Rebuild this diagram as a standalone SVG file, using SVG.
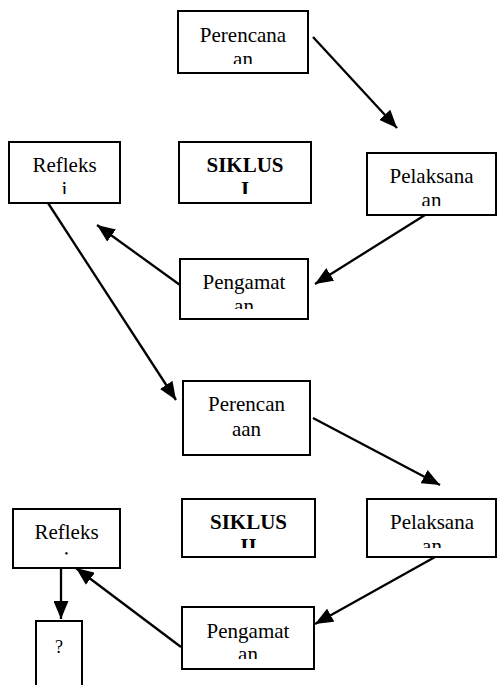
<svg xmlns="http://www.w3.org/2000/svg" width="497" height="685" viewBox="0 0 497 685">
<style>
.box{fill:#fff;stroke:#000;stroke-width:2}
.t{font-family:'Liberation Serif','DejaVu Serif','Times New Roman',serif;font-size:21px;fill:#000;text-anchor:middle}
.b{font-weight:bold}
.c{fill:none;stroke:#000;stroke-width:2.3}
</style>
<defs>
<marker id="ah" markerUnits="userSpaceOnUse" markerWidth="19" markerHeight="15" refX="18" refY="7.5" orient="auto">
<path d="M0,0 L18,7.5 L0,15 z" fill="#000"/>
</marker>
<clipPath id="c1"><rect x="178" y="11" width="130" height="53"/></clipPath>
<clipPath id="c2"><rect x="9" y="142" width="111" height="52"/></clipPath>
<clipPath id="c3"><rect x="179" y="142" width="132" height="52"/></clipPath>
<clipPath id="c4"><rect x="367" y="153" width="129" height="53"/></clipPath>
<clipPath id="c5"><rect x="180" y="259" width="128" height="50"/></clipPath>
<clipPath id="c7"><rect x="182" y="499" width="133" height="49"/></clipPath>
<clipPath id="c8"><rect x="367" y="499" width="129" height="49"/></clipPath>
<clipPath id="c9"><rect x="182" y="607" width="132" height="52"/></clipPath>
<clipPath id="c10"><rect x="13" y="509" width="107" height="50"/></clipPath>
</defs>
<g id="connectors">
<line class="c" x1="313" y1="37" x2="397" y2="128" marker-end="url(#ah)"/>
<line class="c" x1="425" y1="215" x2="315" y2="284" marker-end="url(#ah)"/>
<line class="c" x1="180" y1="285" x2="97" y2="225" marker-end="url(#ah)"/>
<line class="c" x1="48" y1="203" x2="176" y2="400" marker-end="url(#ah)"/>
<line class="c" x1="313" y1="418" x2="440" y2="485" marker-end="url(#ah)"/>
<line class="c" x1="435" y1="557" x2="315" y2="624" marker-end="url(#ah)"/>
<line class="c" x1="181" y1="647" x2="76" y2="568" marker-end="url(#ah)"/>
<line class="c" x1="61" y1="568" x2="61" y2="619" marker-end="url(#ah)"/>
</g>
<g id="perencanaan1">
<rect class="box" x="178" y="11" width="130" height="62"/>
<g clip-path="url(#c1)"><text class="t" x="243" y="42">Perencana</text><text class="t" x="243" y="66">an</text></g>
</g>
<g id="refleksi1">
<rect class="box" x="9" y="142" width="111" height="61"/>
<g clip-path="url(#c2)"><text class="t" x="64.5" y="172">Refleks</text><text class="t" x="64.5" y="196">i</text></g>
</g>
<g id="siklus1">
<rect class="box" x="179" y="142" width="132" height="61"/>
<g clip-path="url(#c3)"><text class="t b" x="245" y="172">SIKLUS</text><text class="t b" x="245" y="196">I</text></g>
</g>
<g id="pelaksanaan1">
<rect class="box" x="367" y="153" width="129" height="62"/>
<g clip-path="url(#c4)"><text class="t" x="431.5" y="183">Pelaksana</text><text class="t" x="431.5" y="207">an</text></g>
</g>
<g id="pengamatan1">
<rect class="box" x="180" y="259" width="128" height="60"/>
<g clip-path="url(#c5)"><text class="t" x="244" y="289">Pengamat</text><text class="t" x="244" y="313">an</text></g>
</g>
<g id="perencanaan2">
<rect class="box" x="183" y="381" width="127" height="74"/>
<text class="t" x="246.5" y="411">Perencan</text><text class="t" x="246.5" y="436">aan</text>
</g>
<g id="siklus2">
<rect class="box" x="182" y="499" width="133" height="58"/>
<g clip-path="url(#c7)"><text class="t b" x="248.5" y="529">SIKLUS</text><text class="t b" x="248.5" y="553">II</text></g>
</g>
<g id="pelaksanaan2">
<rect class="box" x="367" y="499" width="129" height="58"/>
<g clip-path="url(#c8)"><text class="t" x="432" y="529">Pelaksana</text><text class="t" x="432" y="553">an</text></g>
</g>
<g id="pengamatan2">
<rect class="box" x="182" y="607" width="132" height="62"/>
<g clip-path="url(#c9)"><text class="t" x="248" y="638">Pengamat</text><text class="t" x="248" y="661">an</text></g>
</g>
<g id="refleksi2">
<rect class="box" x="13" y="509" width="107" height="59"/>
<g clip-path="url(#c10)"><text class="t" x="66.5" y="539">Refleks</text><text class="t" x="66.5" y="562">:</text></g>
</g>
<g id="tanya">
<rect class="box" x="36" y="621" width="46" height="70"/>
<text class="t" x="59" y="653" style="font-size:18px">?</text>
</g>
</svg>
